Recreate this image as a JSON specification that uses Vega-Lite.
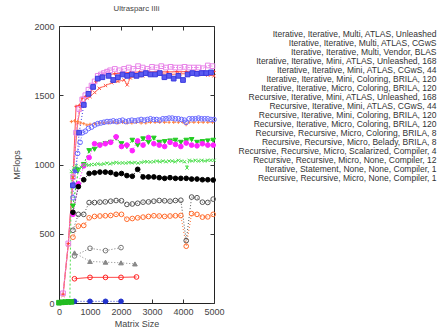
{
  "$schema": "https://vega.github.io/schema/vega-lite/v6.json",
  "autosize": {"type": "none"},
  "width": 155,
  "height": 277,
  "padding": {"left": 59, "top": 26, "right": 227, "bottom": 28},
  "background": "white",
  "title": {"text": "Ultrasparc IIIi", "fontSize": 7.8, "fontWeight": "normal", "font": "Liberation Sans", "color": "#444444", "offset": 9},
  "config": {
    "view": {"stroke": "#222", "strokeWidth": 1},
    "axis": {"grid": false, "labelFont": "Liberation Sans", "titleFont": "Liberation Sans", "labelFontSize": 9, "titleFontSize": 9, "titleFontWeight": "normal", "labelColor": "#444", "titleColor": "#444", "domain": false, "tickColor": "#333", "tickSize": -4, "format": "d", "labelFlush": false, "labelOverlap": false}
  },
  "datasets": {
    "names": [
      {"k": 1, "name": "Iterative, Iterative, Multi, ATLAS, Unleashed"},
      {"k": 2, "name": "Iterative, Iterative, Multi, ATLAS, CGwS"},
      {"k": 3, "name": "Iterative, Iterative, Multi, Vendor, BLAS"},
      {"k": 4, "name": "Iterative, Iterative, Mini, ATLAS, Unleashed, 168"},
      {"k": 5, "name": "Iterative, Iterative, Mini, ATLAS, CGwS, 44"},
      {"k": 6, "name": "Iterative, Iterative, Mini, Coloring, BRILA, 120"},
      {"k": 7, "name": "Iterative, Iterative, Micro, Coloring, BRILA, 120"},
      {"k": 8, "name": "Recursive, Iterative, Mini, ATLAS, Unleashed, 168"},
      {"k": 9, "name": "Recursive, Iterative, Mini, ATLAS, CGwS, 44"},
      {"k": 10, "name": "Recursive, Iterative, Mini, Coloring, BRILA, 120"},
      {"k": 11, "name": "Recursive, Iterative, Micro, Coloring, BRILA, 120"},
      {"k": 12, "name": "Recursive, Recursive, Micro, Coloring, BRILA, 8"},
      {"k": 13, "name": "Recursive, Recursive, Micro, Belady, BRILA, 8"},
      {"k": 14, "name": "Recursive, Recursive, Micro, Scalarized, Compiler, 4"},
      {"k": 15, "name": "Recursive, Recursive, Micro, None, Compiler, 12"},
      {"k": 16, "name": "Iterative, Statement, None, None, Compiler, 1"},
      {"k": 17, "name": "Recursive, Recursive, Micro, None, Compiler, 1"}
    ],
    "pts": [
      {"k":1,"x":130,"y":60},{"k":1,"x":300,"y":430},{"k":1,"x":450,"y":900},{"k":1,"x":550,"y":1420},{"k":1,"x":650,"y":1425},{"k":1,"x":750,"y":1480},{"k":1,"x":850,"y":1490},{"k":1,"x":1000,"y":1500},{"k":1,"x":1100,"y":1560},{"k":1,"x":1200,"y":1600},{"k":1,"x":1300,"y":1620},{"k":1,"x":1400,"y":1640},{"k":1,"x":1600,"y":1650},{"k":1,"x":1800,"y":1655},{"k":1,"x":2000,"y":1660},{"k":1,"x":2300,"y":1665},{"k":1,"x":2600,"y":1668},{"k":1,"x":2900,"y":1668},{"k":1,"x":3200,"y":1670},{"k":1,"x":3500,"y":1668},{"k":1,"x":3800,"y":1670},{"k":1,"x":4100,"y":1670},{"k":1,"x":4400,"y":1668},{"k":1,"x":4700,"y":1670},{"k":1,"x":5000,"y":1672},
      {"k":2,"x":130,"y":55},{"k":2,"x":300,"y":420},{"k":2,"x":450,"y":910},{"k":2,"x":600,"y":1300},{"k":2,"x":700,"y":1420},{"k":2,"x":800,"y":1450},{"k":2,"x":900,"y":1480},{"k":2,"x":1000,"y":1490},{"k":2,"x":1150,"y":1520},{"k":2,"x":1300,"y":1550},{"k":2,"x":1500,"y":1570},{"k":2,"x":1700,"y":1590},{"k":2,"x":1900,"y":1600},{"k":2,"x":2100,"y":1610},{"k":2,"x":2200,"y":1575},{"k":2,"x":2300,"y":1625},{"k":2,"x":2500,"y":1635},{"k":2,"x":2700,"y":1640},{"k":2,"x":3000,"y":1650},{"k":2,"x":3300,"y":1655},{"k":2,"x":3600,"y":1650},{"k":2,"x":3900,"y":1655},{"k":2,"x":4200,"y":1655},{"k":2,"x":4500,"y":1650},{"k":2,"x":4800,"y":1645},{"k":2,"x":5000,"y":1640},
      {"k":3,"x":130,"y":70},{"k":3,"x":300,"y":430},{"k":3,"x":450,"y":910},{"k":3,"x":550,"y":1230},{"k":3,"x":650,"y":1400},{"k":3,"x":750,"y":1470},{"k":3,"x":850,"y":1500},{"k":3,"x":950,"y":1540},{"k":3,"x":1050,"y":1570},{"k":3,"x":1150,"y":1600},{"k":3,"x":1250,"y":1640},{"k":3,"x":1350,"y":1650},{"k":3,"x":1450,"y":1660},{"k":3,"x":1550,"y":1670},{"k":3,"x":1650,"y":1680},{"k":3,"x":1800,"y":1690},{"k":3,"x":1950,"y":1680},{"k":3,"x":2100,"y":1690},{"k":3,"x":2250,"y":1700},{"k":3,"x":2400,"y":1690},{"k":3,"x":2550,"y":1710},{"k":3,"x":2700,"y":1700},{"k":3,"x":2850,"y":1690},{"k":3,"x":3000,"y":1705},{"k":3,"x":3150,"y":1700},{"k":3,"x":3300,"y":1710},{"k":3,"x":3450,"y":1700},{"k":3,"x":3600,"y":1705},{"k":3,"x":3750,"y":1700},{"k":3,"x":3900,"y":1700},{"k":3,"x":4050,"y":1705},{"k":3,"x":4200,"y":1700},{"k":3,"x":4350,"y":1700},{"k":3,"x":4500,"y":1700},{"k":3,"x":4650,"y":1695},{"k":3,"x":4800,"y":1715},{"k":3,"x":4950,"y":1710},
      {"k":4,"x":450,"y":850},{"k":4,"x":550,"y":960},{"k":4,"x":650,"y":1230},{"k":4,"x":800,"y":1430},{"k":4,"x":950,"y":1510},{"k":4,"x":1100,"y":1560},{"k":4,"x":1250,"y":1620},{"k":4,"x":1400,"y":1630},{"k":4,"x":1600,"y":1640},{"k":4,"x":1750,"y":1610},{"k":4,"x":1900,"y":1630},{"k":4,"x":2050,"y":1650},{"k":4,"x":2200,"y":1640},{"k":4,"x":2350,"y":1650},{"k":4,"x":2500,"y":1640},{"k":4,"x":2650,"y":1650},{"k":4,"x":2800,"y":1660},{"k":4,"x":2950,"y":1650},{"k":4,"x":3100,"y":1650},{"k":4,"x":3250,"y":1660},{"k":4,"x":3400,"y":1630},{"k":4,"x":3550,"y":1640},{"k":4,"x":3700,"y":1620},{"k":4,"x":3850,"y":1640},{"k":4,"x":4000,"y":1610},{"k":4,"x":4150,"y":1650},{"k":4,"x":4300,"y":1660},{"k":4,"x":4450,"y":1655},{"k":4,"x":4600,"y":1660},{"k":4,"x":4750,"y":1660},{"k":4,"x":4900,"y":1665},
      {"k":5,"x":400,"y":1310},{"k":5,"x":500,"y":1315},{"k":5,"x":600,"y":1310},{"k":5,"x":700,"y":1300},{"k":5,"x":800,"y":1295},{"k":5,"x":900,"y":1285},{"k":5,"x":1000,"y":1290},{"k":5,"x":1150,"y":1295},{"k":5,"x":1300,"y":1300},{"k":5,"x":1450,"y":1300},{"k":5,"x":1600,"y":1300},{"k":5,"x":1750,"y":1305},{"k":5,"x":1900,"y":1300},{"k":5,"x":2050,"y":1305},{"k":5,"x":2200,"y":1300},{"k":5,"x":2350,"y":1300},{"k":5,"x":2500,"y":1305},{"k":5,"x":2650,"y":1300},{"k":5,"x":2800,"y":1300},{"k":5,"x":2950,"y":1305},{"k":5,"x":3100,"y":1305},{"k":5,"x":3250,"y":1305},{"k":5,"x":3400,"y":1305},{"k":5,"x":3550,"y":1305},{"k":5,"x":3700,"y":1305},{"k":5,"x":3850,"y":1305},{"k":5,"x":4000,"y":1305},{"k":5,"x":4100,"y":1288},{"k":5,"x":4200,"y":1305},{"k":5,"x":4350,"y":1305},{"k":5,"x":4500,"y":1305},{"k":5,"x":4650,"y":1305},{"k":5,"x":4800,"y":1305},{"k":5,"x":4950,"y":1305},
      {"k":6,"x":450,"y":760},{"k":6,"x":520,"y":960},{"k":6,"x":600,"y":1080},{"k":6,"x":680,"y":1160},{"k":6,"x":760,"y":1230},{"k":6,"x":850,"y":1240},{"k":6,"x":950,"y":1260},{"k":6,"x":1050,"y":1270},{"k":6,"x":1150,"y":1285},{"k":6,"x":1250,"y":1295},{"k":6,"x":1350,"y":1300},{"k":6,"x":1450,"y":1305},{"k":6,"x":1550,"y":1310},{"k":6,"x":1650,"y":1310},{"k":6,"x":1750,"y":1315},{"k":6,"x":1850,"y":1310},{"k":6,"x":1950,"y":1315},{"k":6,"x":2050,"y":1320},{"k":6,"x":2150,"y":1310},{"k":6,"x":2250,"y":1315},{"k":6,"x":2350,"y":1320},{"k":6,"x":2450,"y":1315},{"k":6,"x":2550,"y":1320},{"k":6,"x":2650,"y":1325},{"k":6,"x":2750,"y":1320},{"k":6,"x":2850,"y":1325},{"k":6,"x":2950,"y":1330},{"k":6,"x":3050,"y":1325},{"k":6,"x":3150,"y":1325},{"k":6,"x":3250,"y":1320},{"k":6,"x":3350,"y":1330},{"k":6,"x":3450,"y":1330},{"k":6,"x":3550,"y":1335},{"k":6,"x":3650,"y":1335},{"k":6,"x":3750,"y":1330},{"k":6,"x":3850,"y":1330},{"k":6,"x":3950,"y":1325},{"k":6,"x":4050,"y":1320},{"k":6,"x":4100,"y":1305},{"k":6,"x":4200,"y":1330},{"k":6,"x":4300,"y":1330},{"k":6,"x":4400,"y":1330},{"k":6,"x":4500,"y":1335},{"k":6,"x":4600,"y":1330},{"k":6,"x":4700,"y":1330},{"k":6,"x":4800,"y":1330},{"k":6,"x":4900,"y":1325},{"k":6,"x":5000,"y":1325},
      {"k":7,"x":450,"y":700},{"k":7,"x":624,"y":960},{"k":7,"x":798,"y":1000},{"k":7,"x":972,"y":1100},{"k":7,"x":1146,"y":1110},{"k":7,"x":1320,"y":1140},{"k":7,"x":1494,"y":1150},{"k":7,"x":1668,"y":1160},{"k":7,"x":1842,"y":1190},{"k":7,"x":2016,"y":1150},{"k":7,"x":2190,"y":1130},{"k":7,"x":2364,"y":1175},{"k":7,"x":2538,"y":1140},{"k":7,"x":2712,"y":1185},{"k":7,"x":2886,"y":1160},{"k":7,"x":3060,"y":1190},{"k":7,"x":3234,"y":1160},{"k":7,"x":3408,"y":1165},{"k":7,"x":3582,"y":1170},{"k":7,"x":3756,"y":1175},{"k":7,"x":3930,"y":1160},{"k":7,"x":4104,"y":1175},{"k":7,"x":4278,"y":1180},{"k":7,"x":4452,"y":1160},{"k":7,"x":4626,"y":1165},{"k":7,"x":4800,"y":1170},{"k":7,"x":4974,"y":1175},
      {"k":8,"x":450,"y":640},{"k":8,"x":624,"y":860},{"k":8,"x":798,"y":990},{"k":8,"x":972,"y":1050},{"k":8,"x":1146,"y":1150},{"k":8,"x":1320,"y":1140},{"k":8,"x":1494,"y":1150},{"k":8,"x":1668,"y":1160},{"k":8,"x":1842,"y":1200},{"k":8,"x":2016,"y":1130},{"k":8,"x":2190,"y":1140},{"k":8,"x":2364,"y":1100},{"k":8,"x":2538,"y":1170},{"k":8,"x":2712,"y":1140},{"k":8,"x":2886,"y":1195},{"k":8,"x":3060,"y":1150},{"k":8,"x":3234,"y":1140},{"k":8,"x":3408,"y":1130},{"k":8,"x":3582,"y":1160},{"k":8,"x":3756,"y":1145},{"k":8,"x":3930,"y":1130},{"k":8,"x":4104,"y":1155},{"k":8,"x":4278,"y":1140},{"k":8,"x":4452,"y":1135},{"k":8,"x":4626,"y":1150},{"k":8,"x":4800,"y":1140},{"k":8,"x":4974,"y":1140},
      {"k":9,"x":350,"y":10},{"k":9,"x":400,"y":950},{"k":9,"x":480,"y":975},{"k":9,"x":560,"y":990},{"k":9,"x":640,"y":960},{"k":9,"x":720,"y":980},{"k":9,"x":800,"y":995},{"k":9,"x":880,"y":1000},{"k":9,"x":960,"y":995},{"k":9,"x":1050,"y":1000},{"k":9,"x":1150,"y":1000},{"k":9,"x":1250,"y":1005},{"k":9,"x":1350,"y":1000},{"k":9,"x":1450,"y":1005},{"k":9,"x":1550,"y":1010},{"k":9,"x":1650,"y":1005},{"k":9,"x":1750,"y":1010},{"k":9,"x":1850,"y":1015},{"k":9,"x":1950,"y":1010},{"k":9,"x":2050,"y":1012},{"k":9,"x":2150,"y":1010},{"k":9,"x":2250,"y":1015},{"k":9,"x":2350,"y":1012},{"k":9,"x":2450,"y":1015},{"k":9,"x":2550,"y":1010},{"k":9,"x":2650,"y":1015},{"k":9,"x":2750,"y":1020},{"k":9,"x":2850,"y":1020},{"k":9,"x":2950,"y":1018},{"k":9,"x":3050,"y":1020},{"k":9,"x":3150,"y":1025},{"k":9,"x":3250,"y":1020},{"k":9,"x":3350,"y":1025},{"k":9,"x":3450,"y":1020},{"k":9,"x":3550,"y":1025},{"k":9,"x":3650,"y":1025},{"k":9,"x":3750,"y":1020},{"k":9,"x":3850,"y":1030},{"k":9,"x":3950,"y":1025},{"k":9,"x":4050,"y":1020},{"k":9,"x":4130,"y":975},{"k":9,"x":4200,"y":1030},{"k":9,"x":4300,"y":1025},{"k":9,"x":4400,"y":1030},{"k":9,"x":4500,"y":1025},{"k":9,"x":4600,"y":1030},{"k":9,"x":4700,"y":1025},{"k":9,"x":4800,"y":1030},{"k":9,"x":4900,"y":1030},{"k":9,"x":5000,"y":1030},
      {"k":10,"x":450,"y":655},{"k":10,"x":624,"y":840},{"k":10,"x":798,"y":890},{"k":10,"x":972,"y":935},{"k":10,"x":1146,"y":940},{"k":10,"x":1320,"y":945},{"k":10,"x":1494,"y":945},{"k":10,"x":1668,"y":942},{"k":10,"x":1842,"y":930},{"k":10,"x":2016,"y":935},{"k":10,"x":2190,"y":920},{"k":10,"x":2364,"y":915},{"k":10,"x":2538,"y":965},{"k":10,"x":2712,"y":910},{"k":10,"x":2886,"y":910},{"k":10,"x":3060,"y":910},{"k":10,"x":3234,"y":905},{"k":10,"x":3408,"y":900},{"k":10,"x":3582,"y":905},{"k":10,"x":3756,"y":900},{"k":10,"x":3930,"y":900},{"k":10,"x":4104,"y":900},{"k":10,"x":4278,"y":895},{"k":10,"x":4452,"y":895},{"k":10,"x":4626,"y":890},{"k":10,"x":4800,"y":890},{"k":10,"x":4974,"y":888},
      {"k":11,"x":450,"y":525},{"k":11,"x":624,"y":640},{"k":11,"x":798,"y":640},{"k":11,"x":972,"y":725},{"k":11,"x":1146,"y":725},{"k":11,"x":1320,"y":728},{"k":11,"x":1494,"y":730},{"k":11,"x":1668,"y":735},{"k":11,"x":1842,"y":740},{"k":11,"x":2016,"y":738},{"k":11,"x":2190,"y":712},{"k":11,"x":2364,"y":715},{"k":11,"x":2538,"y":720},{"k":11,"x":2712,"y":728},{"k":11,"x":2886,"y":730},{"k":11,"x":3060,"y":735},{"k":11,"x":3234,"y":740},{"k":11,"x":3408,"y":738},{"k":11,"x":3582,"y":735},{"k":11,"x":3756,"y":740},{"k":11,"x":3930,"y":742},{"k":11,"x":4104,"y":450},{"k":11,"x":4278,"y":765},{"k":11,"x":4452,"y":760},{"k":11,"x":4626,"y":728},{"k":11,"x":4800,"y":726},{"k":11,"x":4974,"y":750},
      {"k":12,"x":450,"y":475},{"k":12,"x":624,"y":555},{"k":12,"x":798,"y":560},{"k":12,"x":972,"y":615},{"k":12,"x":1146,"y":625},{"k":12,"x":1320,"y":628},{"k":12,"x":1494,"y":630},{"k":12,"x":1668,"y":632},{"k":12,"x":1842,"y":640},{"k":12,"x":2016,"y":640},{"k":12,"x":2190,"y":605},{"k":12,"x":2364,"y":610},{"k":12,"x":2538,"y":615},{"k":12,"x":2712,"y":620},{"k":12,"x":2886,"y":625},{"k":12,"x":3060,"y":630},{"k":12,"x":3234,"y":628},{"k":12,"x":3408,"y":625},{"k":12,"x":3582,"y":628},{"k":12,"x":3756,"y":630},{"k":12,"x":3930,"y":632},{"k":12,"x":4104,"y":410},{"k":12,"x":4278,"y":645},{"k":12,"x":4452,"y":640},{"k":12,"x":4626,"y":620},{"k":12,"x":4800,"y":622},{"k":12,"x":4974,"y":640},
      {"k":13,"x":500,"y":340},{"k":13,"x":1000,"y":395},{"k":13,"x":1500,"y":378},{"k":13,"x":2000,"y":400},
      {"k":14,"x":500,"y":362},{"k":14,"x":1000,"y":300},{"k":14,"x":1500,"y":295},{"k":14,"x":2000,"y":290},{"k":14,"x":2450,"y":282},
      {"k":15,"x":500,"y":175},{"k":15,"x":1000,"y":185},{"k":15,"x":1500,"y":185},{"k":15,"x":2000,"y":185},{"k":15,"x":2500,"y":188},
      {"k":16,"x":500,"y":12},{"k":16,"x":1000,"y":12},{"k":16,"x":1500,"y":12},{"k":16,"x":2000,"y":12},
      {"k":17,"x":0,"y":2},{"k":17,"x":100,"y":5},{"k":17,"x":200,"y":6},{"k":17,"x":300,"y":8},{"k":17,"x":400,"y":8}
    ]
  },
  "data": {"name": "pts"},
  "transform": [{"lookup": "k", "from": {"data": {"name": "names"}, "key": "k", "fields": ["name"]}}],
  "resolve": {"axis": {"x": "independent", "y": "independent"}},
  "layer": [
    {
      "encoding": {
        "x": {"field": "x", "type": "quantitative", "scale": {"domain": [0, 5000], "nice": false}, "axis": {"orient": "bottom", "values": [0, 1000, 2000, 3000, 4000, 5000], "title": "Matrix Size", "labelPadding": 8, "titlePadding": 3}},
        "y": {"field": "y", "type": "quantitative", "scale": {"domain": [0, 2000], "nice": false}, "axis": {"orient": "left", "values": [0, 500, 1000, 1500, 2000], "title": "MFlops", "labelPadding": 9, "titlePadding": 12}}
      },
      "layer": [
        {
          "mark": {"type": "line", "strokeWidth": 1},
          "encoding": {
            "color": {"field": "name", "type": "nominal",
              "scale": {"domain": ["Iterative, Iterative, Multi, ATLAS, Unleashed","Iterative, Iterative, Multi, ATLAS, CGwS","Iterative, Iterative, Multi, Vendor, BLAS","Iterative, Iterative, Mini, ATLAS, Unleashed, 168","Iterative, Iterative, Mini, ATLAS, CGwS, 44","Iterative, Iterative, Mini, Coloring, BRILA, 120","Iterative, Iterative, Micro, Coloring, BRILA, 120","Recursive, Iterative, Mini, ATLAS, Unleashed, 168","Recursive, Iterative, Mini, ATLAS, CGwS, 44","Recursive, Iterative, Mini, Coloring, BRILA, 120","Recursive, Iterative, Micro, Coloring, BRILA, 120","Recursive, Recursive, Micro, Coloring, BRILA, 8","Recursive, Recursive, Micro, Belady, BRILA, 8","Recursive, Recursive, Micro, Scalarized, Compiler, 4","Recursive, Recursive, Micro, None, Compiler, 12","Iterative, Statement, None, None, Compiler, 1","Recursive, Recursive, Micro, None, Compiler, 1"],
                "range": ["#ff3b3b","#ff5a4a","#e884e8","#3a3ae0","#ff8040","#6a6aff","#22cc22","#ff22ff","#55e055","#000000","#555555","#ff6a2a","#777777","#888888","#ff2020","#2233cc","#22bb22"]},
              "legend": {"orient": "none", "legendX": 369, "legendY": 4, "title": null, "labelAlign": "right", "labelOffset": 0, "padding": 0, "symbolSize": 0, "symbolOpacity": 0, "symbolStrokeWidth": 0, "labelFont": "Liberation Sans", "labelFontSize": 8.5, "labelColor": "#333", "rowPadding": 0, "labelLimit": 300}},
            "strokeDash": {"field": "name", "type": "nominal",
              "scale": {"domain": ["Iterative, Iterative, Multi, ATLAS, Unleashed","Iterative, Iterative, Multi, ATLAS, CGwS","Iterative, Iterative, Multi, Vendor, BLAS","Iterative, Iterative, Mini, ATLAS, Unleashed, 168","Iterative, Iterative, Mini, ATLAS, CGwS, 44","Iterative, Iterative, Mini, Coloring, BRILA, 120","Iterative, Iterative, Micro, Coloring, BRILA, 120","Recursive, Iterative, Mini, ATLAS, Unleashed, 168","Recursive, Iterative, Mini, ATLAS, CGwS, 44","Recursive, Iterative, Mini, Coloring, BRILA, 120","Recursive, Iterative, Micro, Coloring, BRILA, 120","Recursive, Recursive, Micro, Coloring, BRILA, 8","Recursive, Recursive, Micro, Belady, BRILA, 8","Recursive, Recursive, Micro, Scalarized, Compiler, 4","Recursive, Recursive, Micro, None, Compiler, 12","Iterative, Statement, None, None, Compiler, 1","Recursive, Recursive, Micro, None, Compiler, 1"],
                "range": [[1,0],[1,0],[2,1],[1,2],[1,2],[1,2],[2,2],[1,2],[2,2],[1,2],[1,2],[1,2],[1,2],[1,2],[1,0],[1,2],[2,2]]},
              "legend": null}
          }
        },
        {
          "mark": {"type": "point", "opacity": 1, "strokeWidth": 1, "filled": false, "size": 22},
          "encoding": {
            "color": {"field": "name", "type": "nominal",
              "legend": {"orient": "none", "legendX": 369, "legendY": 4, "title": null, "labelAlign": "right", "labelOffset": 0, "padding": 0, "symbolSize": 0, "symbolOpacity": 0, "symbolStrokeWidth": 0, "labelFont": "Liberation Sans", "labelFontSize": 8.5, "labelColor": "#333", "rowPadding": 0, "labelLimit": 300}},
            "shape": {"field": "name", "type": "nominal",
              "scale": {"domain": ["Iterative, Iterative, Multi, ATLAS, Unleashed","Iterative, Iterative, Multi, ATLAS, CGwS","Iterative, Iterative, Multi, Vendor, BLAS","Iterative, Iterative, Mini, ATLAS, Unleashed, 168","Iterative, Iterative, Mini, ATLAS, CGwS, 44","Iterative, Iterative, Mini, Coloring, BRILA, 120","Iterative, Iterative, Micro, Coloring, BRILA, 120","Recursive, Iterative, Mini, ATLAS, Unleashed, 168","Recursive, Iterative, Mini, ATLAS, CGwS, 44","Recursive, Iterative, Mini, Coloring, BRILA, 120","Recursive, Iterative, Micro, Coloring, BRILA, 120","Recursive, Recursive, Micro, Coloring, BRILA, 8","Recursive, Recursive, Micro, Belady, BRILA, 8","Recursive, Recursive, Micro, Scalarized, Compiler, 4","Recursive, Recursive, Micro, None, Compiler, 12","Iterative, Statement, None, None, Compiler, 1","Recursive, Recursive, Micro, None, Compiler, 1"],
                "range": ["M-0.7,0H0.7M0,-0.7V0.7","M-0.7,-0.7L0.7,0.7M-0.7,0.7L0.7,-0.7","square","square","M-0.7,0H0.7M0,-0.7V0.7","circle","triangle-down","circle","M-0.7,-0.7L0.7,0.7M-0.7,0.7L0.7,-0.7","circle","circle","circle","circle","triangle-up","circle","circle","square"]},
              "legend": null},
            "fill": {"field": "name", "type": "nominal",
              "scale": {"domain": ["Iterative, Iterative, Multi, ATLAS, Unleashed","Iterative, Iterative, Multi, ATLAS, CGwS","Iterative, Iterative, Multi, Vendor, BLAS","Iterative, Iterative, Mini, ATLAS, Unleashed, 168","Iterative, Iterative, Mini, ATLAS, CGwS, 44","Iterative, Iterative, Mini, Coloring, BRILA, 120","Iterative, Iterative, Micro, Coloring, BRILA, 120","Recursive, Iterative, Mini, ATLAS, Unleashed, 168","Recursive, Iterative, Mini, ATLAS, CGwS, 44","Recursive, Iterative, Mini, Coloring, BRILA, 120","Recursive, Iterative, Micro, Coloring, BRILA, 120","Recursive, Recursive, Micro, Coloring, BRILA, 8","Recursive, Recursive, Micro, Belady, BRILA, 8","Recursive, Recursive, Micro, Scalarized, Compiler, 4","Recursive, Recursive, Micro, None, Compiler, 12","Iterative, Statement, None, None, Compiler, 1","Recursive, Recursive, Micro, None, Compiler, 1"],
                "range": ["transparent","transparent","transparent","#5a5af0","transparent","transparent","#22cc22","#ff22ff","transparent","#000000","transparent","transparent","transparent","#888888","transparent","#2233cc","#22bb22"]},
              "legend": null}
          }
        }
      ]
    },
    {
      "mark": {"type": "point", "opacity": 0},
      "encoding": {
        "x": {"field": "x", "type": "quantitative", "axis": {"orient": "top", "values": [0, 1000, 2000, 3000, 4000, 5000], "labels": false, "title": null}},
        "y": {"field": "y", "type": "quantitative", "axis": {"orient": "right", "values": [0, 500, 1000, 1500, 2000], "labels": false, "title": null}}
      }
    }
  ]
}
